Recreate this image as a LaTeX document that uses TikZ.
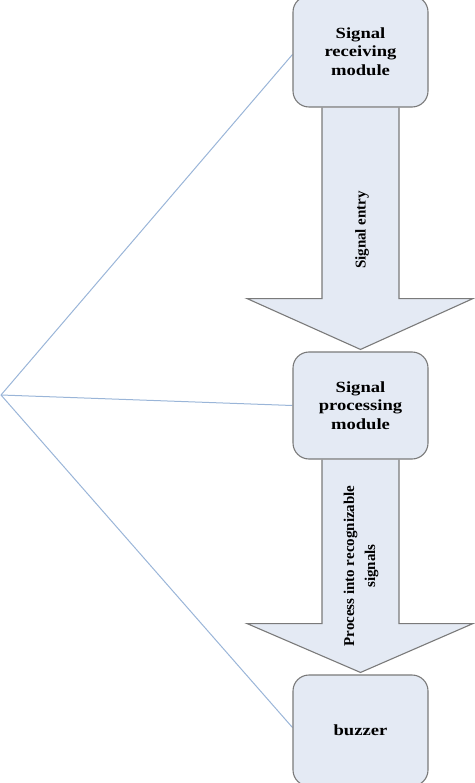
\documentclass[tikz,border=0pt]{standalone}
\usepackage{fontspec}
\setmainfont{Liberation Serif}
\newfontfamily\boxfont{Liberation Serif}[FakeStretch=1.2]
\usetikzlibrary{calc,backgrounds}
\definecolor{boxfill}{HTML}{E4EAF4}
\definecolor{boxline}{HTML}{7A7A7A}
\definecolor{linkline}{HTML}{9AB5D8}
\tikzset{
  modbox/.style={draw=boxline, line width=1.1pt, fill=boxfill, rounded corners=16pt,
    minimum width=135pt, align=center, inner sep=0pt,
    font=\boxfont\bfseries\fontsize{15.5}{18.5}\selectfont},
  blockarrow/.style={draw=boxline, line width=1.1pt, fill=boxfill, line join=miter},
  arrowlabel/.style={rotate=90, align=center, inner sep=0pt,
    font=\bfseries\fontsize{15}{21}\selectfont},
  link/.style={draw=linkline, line width=1pt}
}
\begin{document}
\begin{tikzpicture}[x=1pt,y=-1pt]
\useasboundingbox (0,0) rectangle (474,783);
\coordinate (apex) at (1,395);
% boxes
\node[modbox, minimum height=111pt] (b1) at (360.5,51.5) {Signal\\receiving\\module};
\node[modbox, minimum height=107pt] (b2) at (360.5,405.5) {Signal\\processing\\module};
\node[modbox, minimum height=111pt] (b3) at (360.5,730.5) {buzzer};
\begin{scope}[on background layer]
% block arrows
\draw[blockarrow] ($(b1.south)+(-38.5,0)$) -- ($(b1.south)+(-38.5,191)$) -- ($(b1.south)+(-113.5,191)$)
  -- ($(b2.north)+(0,-2)$) -- ($(b1.south)+(112.5,191)$) -- ($(b1.south)+(38.5,191)$) -- ($(b1.south)+(38.5,0)$);
\draw[blockarrow] ($(b2.south)+(-38.5,0)$) -- ($(b2.south)+(-38.5,164)$) -- ($(b2.south)+(-113.5,164)$)
  -- ($(b3.north)+(0,-2)$) -- ($(b2.south)+(112.5,164)$) -- ($(b2.south)+(38.5,164)$) -- ($(b2.south)+(38.5,0)$);
% links
\draw[link] (apex) -- ($(b1.west)+(0,3)$);
\draw[link] (apex) -- (b2.west);
\draw[link] (apex) -- ($(b3.west)+(0,-3)$);
\end{scope}
% arrow labels
\node[arrowlabel] (l1) at (362,230) {Signal entry};
\node[arrowlabel] (l2) at (361,566) {Process into recognizable\\signals};
\end{tikzpicture}
\end{document}
